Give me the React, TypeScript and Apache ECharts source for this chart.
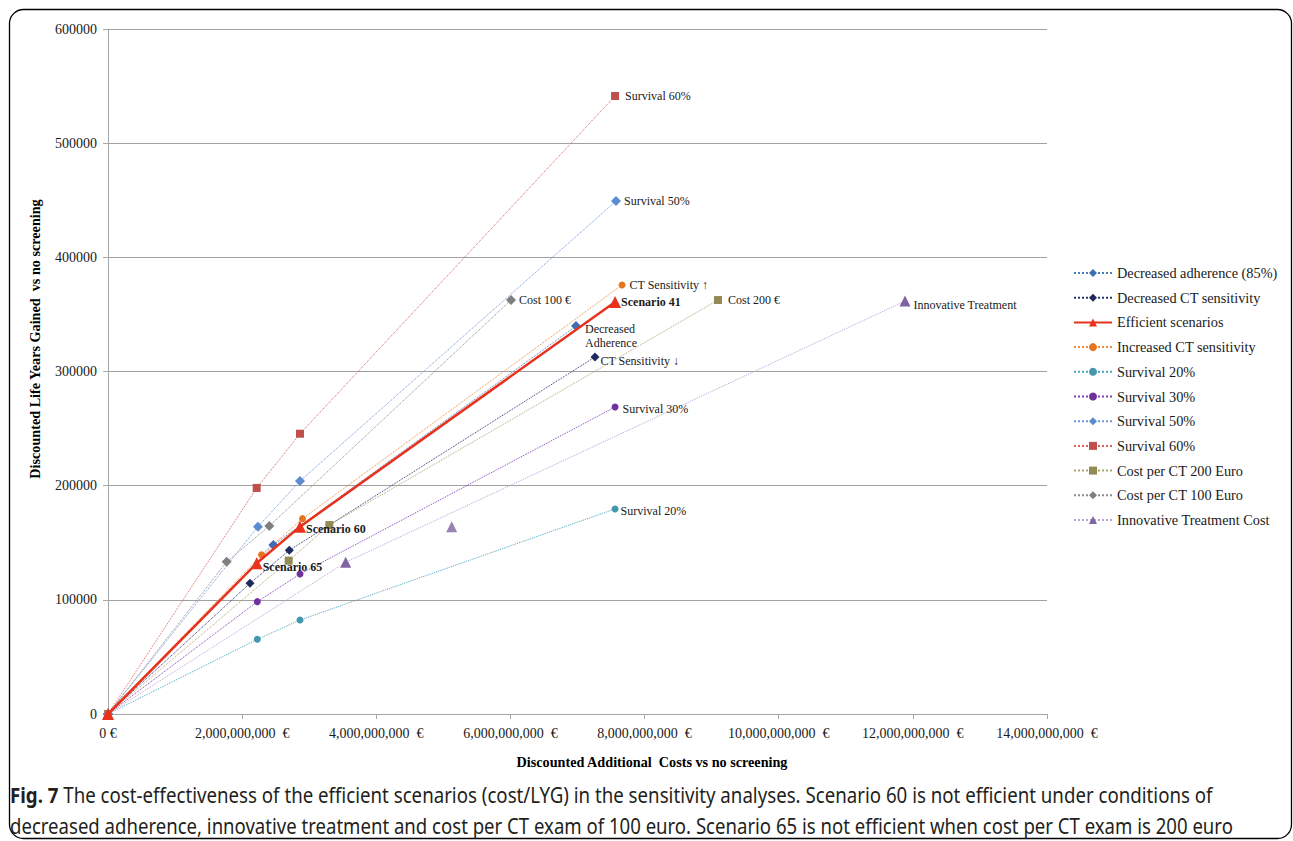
import React, { useEffect, useRef } from 'react';
import * as echarts from 'echarts';

// ---------- data ----------
const seriesNames = [
  'Decreased adherence (85%)',
  'Decreased CT sensitivity',
  'Efficient scenarios',
  'Increased CT sensitivity',
  'Survival 20%',
  'Survival 30%',
  'Survival 50%',
  'Survival 60%',
  'Cost per CT 200 Euro',
  'Cost per CT 100 Euro',
  'Innovative Treatment Cost',
];

const decreasedAdherence = [[0, 0], [2.465e9, 148000], [6.978e9, 339800]];
const decreasedCTSensitivity = [[0, 0], [2.117e9, 114500], [2.703e9, 143400], [7.261e9, 312700]];
const efficientScenarios = [[0, 0], [2.217e9, 132000], [2.863e9, 164100], [7.56e9, 360900]];
const increasedCTSensitivity = [[0, 0], [2.29e9, 139500], [2.9e9, 171100], [7.664e9, 375800]];
const survival20 = [[0, 0], [2.226e9, 65400], [2.863e9, 82300], [7.56e9, 179600]];
const survival30 = [[0, 0], [2.226e9, 98400], [2.863e9, 122600], [7.56e9, 268900]];
const survival50 = [[0, 0], [2.236e9, 164100], [2.863e9, 204100], [7.574e9, 449300]];
const survival60 = [[0, 0], [2.217e9, 198000], [2.863e9, 245500], [7.56e9, 541300]];
const costPerCT200 = [[0, 0], [2.694e9, 134300], [3.3e9, 165500], [9.095e9, 362600]];
const costPerCT100 = [[0, 0], [1.77e9, 133400], [2.405e9, 164700], [6.009e9, 362600]];
const innovativeTreatment = [[0, 0], [3.544e9, 132900], [11.883e9, 361700]];
const innovativeTreatmentExtra = [[5.124e9, 164100]];

// point annotations: [series name, point index, text]
const annotations: [string, number, string][] = [
  ['Survival 60%', 3, 'Survival 60%'],
  ['Survival 50%', 3, 'Survival 50%'],
  ['Increased CT sensitivity', 3, 'CT Sensitivity ↑'],
  ['Efficient scenarios', 3, 'Scenario 41'],
  ['Cost per CT 200 Euro', 3, 'Cost 200 €'],
  ['Cost per CT 100 Euro', 3, 'Cost 100 €'],
  ['Decreased adherence (85%)', 2, 'Decreased\nAdherence'],
  ['Decreased CT sensitivity', 3, 'CT Sensitivity ↓'],
  ['Survival 30%', 3, 'Survival 30%'],
  ['Survival 20%', 3, 'Survival 20%'],
  ['Innovative Treatment Cost', 2, 'Innovative Treatment'],
  ['Efficient scenarios', 2, 'Scenario 60'],
  ['Efficient scenarios', 1, 'Scenario 65'],
];

const yTicks = { min: 0, max: 600000, interval: 100000 };
const xTicks = { min: 0, max: 14e9, interval: 2e9 };

const captionBold = 'Fig. 7';
const captionLine1 = ' The cost-effectiveness of the efficient scenarios (cost/LYG) in the sensitivity analyses. Scenario 60 is not efficient under conditions of';
const captionLine2 = 'decreased adherence, innovative treatment and cost per CT exam of 100 euro. Scenario 65 is not efficient when cost per CT exam is 200 euro';

const seriesData: Record<string, number[][]> = {
  'Decreased adherence (85%)': decreasedAdherence,
  'Decreased CT sensitivity': decreasedCTSensitivity,
  'Efficient scenarios': efficientScenarios,
  'Increased CT sensitivity': increasedCTSensitivity,
  'Survival 20%': survival20,
  'Survival 30%': survival30,
  'Survival 50%': survival50,
  'Survival 60%': survival60,
  'Cost per CT 200 Euro': costPerCT200,
  'Cost per CT 100 Euro': costPerCT100,
  'Innovative Treatment Cost': innovativeTreatment,
};

// ---------- styles ----------
const SERIF = 'Liberation Serif';
const SANS = 'Noto Sans';
const styles: Record<string, any> = {
  'Decreased adherence (85%)': { color: '#3E6DB0', line: '#4A7EBB', symbol: 'diamond', size: 10 },
  'Decreased CT sensitivity': { color: '#1F2A5E', line: '#2A3570', symbol: 'diamond', size: 9 },
  'Efficient scenarios': { color: '#E8321E', line: '#E8321E', symbol: 'triangle', size: 12, width: 2.5, type: 'solid' },
  'Increased CT sensitivity': { color: '#E8731F', line: '#F08A3A', symbol: 'circle', size: 7 },
  'Survival 20%': { color: '#4597AD', line: '#4BA3BC', symbol: 'circle', size: 7 },
  'Survival 30%': { color: '#7030A0', line: '#8040B8', symbol: 'circle', size: 7 },
  'Survival 50%': { color: '#5B8BD0', line: '#6C98D6', symbol: 'diamond', size: 10 },
  'Survival 60%': { color: '#C0504D', line: '#D9625E', symbol: 'rect', size: 8 },
  'Cost per CT 200 Euro': { color: '#948A54', line: '#B0A470', symbol: 'rect', size: 8 },
  'Cost per CT 100 Euro': { color: '#7F7F7F', line: '#8C8C8C', symbol: 'diamond', size: 10 },
  'Innovative Treatment Cost': { color: '#8064A2', line: '#B9A2D8', symbol: 'triangle', size: 11 },
};

const labelPlacement: Record<string, any> = {
  'Survival 60%': { position: 'right', distance: 6 },
  'Survival 50%': { position: 'right', distance: 3 },
  'CT Sensitivity ↑': { position: 'right', distance: 4 },
  'Scenario 41': { position: 'right', distance: 0, fontWeight: 'bold' },
  'Cost 200 €': { position: 'right', distance: 6 },
  'Cost 100 €': { position: 'right', distance: 3 },
  'Decreased\nAdherence': { position: [14, 1], align: 'left', verticalAlign: 'top', lineHeight: 14 },
  'CT Sensitivity ↓': { position: 'right', distance: 1, offset: [0, 4] },
  'Survival 30%': { position: 'right', distance: 4, offset: [0, 2] },
  'Survival 20%': { position: 'right', distance: 2, offset: [0, 2] },
  'Innovative Treatment': { position: 'right', distance: 3, offset: [0, 4] },
  'Scenario 60': { position: 'right', distance: 0, offset: [0, 2], fontWeight: 'bold' },
  'Scenario 65': { position: 'right', distance: 0, offset: [0, 4], fontWeight: 'bold' },
};

function buildSeries() {
  const out: any[] = seriesNames.map((name) => {
    const st = styles[name];
    const data = seriesData[name].map((p, i) => {
      const ann = annotations.find((a) => a[0] === name && a[1] === i);
      if (!ann) return { value: p };
      const pl = labelPlacement[ann[2]] || {};
      return {
        value: p,
        label: {
          show: true,
          formatter: ann[2],
          color: '#1a1a1a',
          fontFamily: SERIF,
          fontSize: 12,
          ...pl,
        },
      };
    });
    return {
      name,
      type: 'line',
      data,
      symbol: st.symbol,
      symbolSize: st.size,
      showAllSymbol: true,
      z: name === 'Efficient scenarios' ? 5 : 2,
      itemStyle: { color: st.color },
      lineStyle: { color: st.line, width: st.width || 1, type: st.type || 'dotted' },
      emphasis: { disabled: true },
      label: { show: false },
    };
  });
  const st = styles['Innovative Treatment Cost'];
  out.push({
    name: 'Innovative Treatment Cost',
    type: 'scatter',
    data: innovativeTreatmentExtra,
    symbol: st.symbol,
    symbolSize: st.size,
    itemStyle: { color: st.color },
    z: 2,
  });
  return out;
}

function fmtX(v: number) {
  if (v === 0) return '0 €';
  return v.toLocaleString('en-US') + '\u00a0\u00a0€';
}

export default function App() {
  const ref = useRef<HTMLDivElement>(null);
  useEffect(() => {
    const chart = echarts.init(ref.current!, null, { renderer: 'svg' });
    const option: any = {
      animation: false,
      backgroundColor: '#ffffff',
      textStyle: { fontFamily: SERIF },
      grid: { left: 108, right: 246, top: 29, bottom: 127, containLabel: false },
      xAxis: {
        type: 'value',
        min: xTicks.min,
        max: xTicks.max,
        interval: xTicks.interval,
        axisLine: { show: true, lineStyle: { color: '#A6A6A6', width: 1 } },
        axisTick: { show: true, length: 5, lineStyle: { color: '#A6A6A6' } },
        splitLine: { show: false },
        axisLabel: { formatter: fmtX, color: '#1a1a1a', fontFamily: SERIF, fontSize: 14, margin: 12 },
      },
      yAxis: {
        type: 'value',
        min: yTicks.min,
        max: yTicks.max,
        interval: yTicks.interval,
        axisLine: { show: true, lineStyle: { color: '#A6A6A6', width: 1 } },
        axisTick: { show: true, length: 5, lineStyle: { color: '#A6A6A6' } },
        splitLine: { show: true, lineStyle: { color: '#A0A0A0', width: 1 } },
        axisLabel: { formatter: (v: number) => String(v), color: '#1a1a1a', fontFamily: SERIF, fontSize: 14, margin: 11 },
      },
      legend: {
        orient: 'vertical',
        left: 1068,
        top: 261,
        data: seriesNames,
        itemWidth: 38,
        itemHeight: 10,
        itemGap: 10.7,
        selectedMode: false,
        textStyle: { fontFamily: SERIF, fontSize: 14.3, color: '#1a1a1a', lineHeight: 14 },
      },
      series: buildSeries(),
      graphic: [
        {
          type: 'rect',
          silent: true,
          shape: { x: 9.5, y: 9.5, width: 1282, height: 829, r: 14 },
          style: { fill: 'none', stroke: '#000', lineWidth: 1.3 },
        },
        {
          type: 'text',
          x: 652,
          y: 762,
          style: {
            text: 'Discounted Additional  Costs vs no screening',
            fontFamily: SERIF,
            fontWeight: 'bold',
            fontSize: 14.2,
            fill: '#000',
            align: 'center',
            verticalAlign: 'middle',
          },
        },
        {
          type: 'text',
          x: 35,
          y: 339,
          rotation: Math.PI / 2,
          style: {
            text: 'Discounted Life Years Gained  vs no screening',
            fontFamily: SERIF,
            fontWeight: 'bold',
            fontSize: 14.2,
            fill: '#000',
            align: 'center',
            verticalAlign: 'middle',
          },
        },
        {
          type: 'text',
          x: 10,
          y: 795,
          scaleX: 0.89,
          style: {
            text: '{b|' + captionBold + '}' + captionLine1,
            rich: { b: { fontWeight: 'bold', fontSize: 21, fontFamily: SANS, fill: '#231f20' } },
            fontFamily: SANS,
            fontSize: 21,
            fill: '#231f20',
            verticalAlign: 'middle',
          },
        },
        {
          type: 'text',
          x: 10,
          y: 826,
          scaleX: 0.885,
          style: {
            text: captionLine2,
            fontFamily: SANS,
            fontSize: 21,
            fill: '#231f20',
            verticalAlign: 'middle',
          },
        },
      ],
    };
    chart.setOption(option);
    return () => chart.dispose();
  }, []);
  return <div ref={ref} style={{ position: 'absolute', left: 0, top: 0, width: 1293, height: 841 }} />;
}
